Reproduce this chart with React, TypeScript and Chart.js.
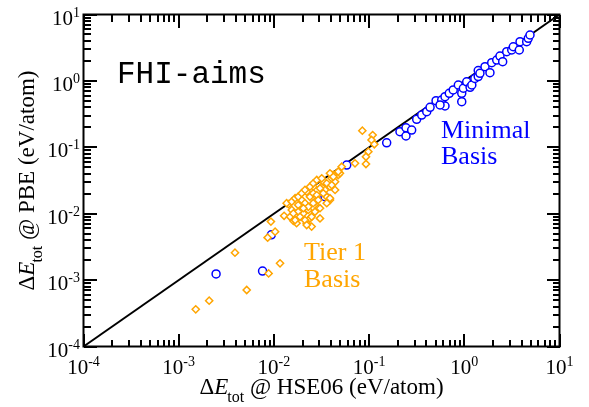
import React, { useEffect, useRef } from "react";
import { Chart, registerables } from "chart.js";

Chart.register(...registerables);

// ---- data (eV/atom) ----
const tier1X = [
  1.51e-3, 2.09e-3, 5.18e-3, 3.9e-3, 8.8e-3, 0.0116, 9.3e-3, 0.0103, 8.6e-3,
  0.0142, 0.0128, 0.0148, 0.016, 0.0173, 0.0154, 0.018, 0.0196, 0.0212, 0.0221,
  0.0239, 0.0259, 0.0259, 0.023, 0.0204, 0.0221, 0.0249, 0.0239, 0.0292, 0.0305,
  0.027, 0.0282, 0.0318, 0.033, 0.0344, 0.0359, 0.0388, 0.0388, 0.0405, 0.0439,
  0.0439, 0.0405, 0.0474, 0.0515, 0.0494, 0.0711, 0.0927, 0.0849, 0.109, 0.106,
  0.1135, 0.0982, 0.0927, 0.0474, 0.0421,
  0.0136, 0.0154, 0.0167, 0.018, 0.0196, 0.0212, 0.0239, 0.0259, 0.0282, 0.0318,
  0.0388, 0.0421, 0.0359, 0.0405, 0.0305, 0.033, 0.0292, 0.0259, 0.023, 0.0204,
  0.018, 0.016, 0.0167, 0.0188, 0.0212, 0.0221, 0.0249, 0.027, 0.0305, 0.0359,
  0.0388,
];
const tier1Y = [
  3.63e-4, 4.9e-4, 7.1e-4, 2.59e-3, 1.26e-3, 1.79e-3, 7.6e-3, 5.36e-3, 4.36e-3,
  0.0139, 0.0093, 0.009, 0.0078, 0.0072, 0.0114, 0.0135, 0.0161, 0.0144, 0.0214,
  0.018, 0.0255, 0.0203, 0.0114, 0.0101, 0.0072, 0.0064, 0.0085, 0.0121, 0.0085,
  0.0152, 0.0191, 0.0255, 0.0303, 0.0228, 0.018, 0.0161, 0.0255, 0.0341, 0.0303,
  0.0228, 0.0383, 0.0383, 0.051, 0.0406, 0.0574, 0.056, 0.178, 0.153, 0.129,
  0.111, 0.0859, 0.0721, 0.043, 0.0383,
  0.0144, 0.0152, 0.0171, 0.018, 0.0203, 0.0228, 0.0255, 0.0287, 0.0322, 0.0341,
  0.0406, 0.036, 0.0287, 0.027, 0.0242, 0.0203, 0.0161, 0.0144, 0.0127, 0.0121,
  0.0107, 0.0101, 0.008, 0.009, 0.008, 0.00676, 0.009, 0.0107, 0.0121, 0.0144,
  0.0171,
];
const minimalX = [
  2.47e-3, 7.6e-3, 9.4e-3, 0.0344, 0.0582, 0.153, 0.211, 0.244, 0.244, 0.28,
  0.316, 0.357, 0.403, 0.437, 0.505, 0.579, 0.627, 0.627, 0.695, 0.765, 0.865,
  0.94, 0.977, 1.06, 1.15, 1.2, 1.29, 1.4, 1.4, 1.46, 1.65, 1.86, 1.94, 2.19,
  2.37, 2.53, 2.79, 3.15, 3.27, 3.78, 3.85, 4.52, 4.7, 4.9, 0.94, 0.556,
];
const minimalY = [
  1.24e-3, 1.37e-3, 4.8e-3, 0.018, 0.054, 0.117, 0.172, 0.197, 0.148, 0.182,
  0.264, 0.306, 0.344, 0.4, 0.504, 0.515, 0.419, 0.578, 0.65, 0.73, 0.867,
  0.65, 0.775, 0.97, 0.8, 0.867, 1.09, 1.16, 1.43, 1.3, 1.64, 1.33, 1.88, 2.06,
  2.37, 1.95, 2.75, 2.92, 3.27, 2.92, 3.89, 3.89, 4.38, 4.91, 0.486, 0.434,
];
const diagonalX = [1e-4, 10];
const diagonalY = [1e-4, 10];

const axisMin = 1e-4;
const axisMax = 10;
const decadeExponents = [-4, -3, -2, -1, 0, 1];
const minorMultipliers = [2, 3, 4, 5, 6, 7, 8, 9];

const xTitleRest = " @ HSE06 (eV/atom)";
const yTitleRest = " @ PBE (eV/atom)";
const codeLabel = "FHI-aims";
const minimalLabel = ["Minimal", "Basis"];
const tier1Label = ["Tier 1", "Basis"];

const ORANGE = "#ffa500";
const BLUE = "#0000ff";
const SERIF = '"Liberation Serif", "Times New Roman", serif';

function toPoints(xs: number[], ys: number[]) {
  return xs.map((x, i) => ({ x, y: ys[i] }));
}

function drawEnergyTitle(ctx: CanvasRenderingContext2D, rest: string) {
  const main = `23px ${SERIF}`;
  const ital = `italic 23px ${SERIF}`;
  const sub = `16px ${SERIF}`;
  ctx.font = main;
  const wD = ctx.measureText("Δ").width;
  ctx.font = ital;
  const wE = ctx.measureText("E").width;
  ctx.font = sub;
  const wS = ctx.measureText("tot").width;
  ctx.font = main;
  const wR = ctx.measureText(rest).width;
  const gap = -1;
  const total = wD + wE + gap + wS + wR;
  let x = -total / 2;
  ctx.textAlign = "left";
  ctx.textBaseline = "alphabetic";
  ctx.font = main;
  ctx.fillText("Δ", x, 0);
  x += wD;
  ctx.font = ital;
  ctx.fillText("E", x, 0);
  x += wE + gap;
  ctx.font = sub;
  ctx.fillText("tot", x, 8);
  x += wS;
  ctx.font = main;
  ctx.fillText(rest, x, 0);
}

function powerLabel(
  ctx: CanvasRenderingContext2D,
  exp: number,
  anchorX: number,
  baseY: number,
  mode: "right" | "center"
) {
  const baseFont = `21px ${SERIF}`;
  const supFont = `14px ${SERIF}`;
  const expText = String(exp);
  ctx.font = baseFont;
  const w10 = ctx.measureText("10").width;
  ctx.font = supFont;
  const wE = ctx.measureText(expText).width;
  const total = w10 + wE;
  const x0 = mode === "right" ? anchorX - total : anchorX - total / 2;
  ctx.textAlign = "left";
  ctx.textBaseline = "alphabetic";
  ctx.font = baseFont;
  ctx.fillText("10", x0, baseY);
  ctx.font = supFont;
  ctx.fillText(expText, x0 + w10, baseY - 8);
}

function strokeTicks(chart: any) {
  const ctx: CanvasRenderingContext2D = chart.ctx;
  const a = chart.chartArea;
  const xs = chart.scales.x;
  const ys = chart.scales.y;
  const L = Math.round(a.left);
  const R = Math.round(a.right);
  const T = Math.round(a.top);
  const B = Math.round(a.bottom);
  ctx.save();
  ctx.setTransform(1, 0, 0, 1, 0, 0);
  ctx.globalAlpha = 1;
  ctx.globalCompositeOperation = "source-over";
  ctx.shadowColor = "rgba(0,0,0,0)";
  ctx.setLineDash([]);
  ctx.strokeStyle = "#000000";
  ctx.lineWidth = 2;
  ctx.lineCap = "butt";
  ctx.beginPath();
  for (const e of decadeExponents) {
    const base = Math.pow(10, e);
    const group = e < 1 ? [1, ...minorMultipliers] : [1];
    for (const m of group) {
      const len = m === 1 ? 13 : 7;
      const xp = Math.round(xs.getPixelForValue(m * base));
      const yp = Math.round(ys.getPixelForValue(m * base));
      ctx.moveTo(xp, B);
      ctx.lineTo(xp, B - len);
      ctx.moveTo(xp, T);
      ctx.lineTo(xp, T + len);
      ctx.moveTo(L, yp);
      ctx.lineTo(L + len, yp);
      ctx.moveTo(R, yp);
      ctx.lineTo(R - len, yp);
    }
  }
  ctx.stroke();
  ctx.restore();
}

const ticksPlugin = {
  id: "inwardTicks",
  afterDatasetsDraw(chart: any) {
    strokeTicks(chart);
  },
};

const framePlugin = {
  id: "xmgraceFrame",
  afterDraw(chart: any) {
    const ctx: CanvasRenderingContext2D = chart.ctx;
    const a = chart.chartArea;
    const xs = chart.scales.x;
    const ys = chart.scales.y;
    strokeTicks(chart);
    ctx.save();
    ctx.fillStyle = "#000000";
    ctx.strokeStyle = "#000000";
    ctx.lineWidth = 2;
    ctx.strokeRect(a.left, a.top, a.right - a.left, a.bottom - a.top);

    for (const e of decadeExponents) {
      const v = Math.pow(10, e);
      powerLabel(ctx, e, a.left - 3.5, ys.getPixelForValue(v) + 10, "right");
      powerLabel(ctx, e, xs.getPixelForValue(v), a.bottom + 27.5, "center");
    }

    ctx.save();
    ctx.translate((a.left + a.right) / 2, 394);
    drawEnergyTitle(ctx, xTitleRest);
    ctx.restore();

    ctx.save();
    ctx.translate(34, (a.top + a.bottom) / 2);
    ctx.rotate(-Math.PI / 2);
    drawEnergyTitle(ctx, yTitleRest);
    ctx.restore();

    ctx.textAlign = "left";
    ctx.textBaseline = "alphabetic";
    ctx.fillStyle = "#000";
    ctx.font = '31px "Liberation Mono", "Courier New", monospace';
    ctx.fillText(codeLabel, 117, 83);

    ctx.fillStyle = BLUE;
    ctx.font = `26px ${SERIF}`;
    ctx.fillText(minimalLabel[0], 441, 138);
    ctx.fillText(minimalLabel[1], 441, 164);

    ctx.fillStyle = ORANGE;
    ctx.fillText(tier1Label[0], 304, 260);
    ctx.fillText(tier1Label[1], 304, 287);

    ctx.restore();
  },
};

export default function App() {
  const ref = useRef<HTMLCanvasElement | null>(null);

  useEffect(() => {
    if (!ref.current) return;
    const chart = new Chart(ref.current, {
      type: "scatter",
      data: {
        datasets: [
          {
            label: "Tier 1 Basis",
            data: toPoints(tier1X, tier1Y),
            pointStyle: "rectRot",
            pointRadius: 3.6,
            pointBorderWidth: 1.5,
            borderColor: ORANGE,
            backgroundColor: "#ffffff",
            pointBackgroundColor: "#ffffff",
            pointBorderColor: ORANGE,
            showLine: false,
          },
          {
            label: "Minimal Basis",
            data: toPoints(minimalX, minimalY),
            pointStyle: "circle",
            pointRadius: 4,
            pointBorderWidth: 1.5,
            borderColor: BLUE,
            backgroundColor: "#ffffff",
            pointBackgroundColor: "#ffffff",
            pointBorderColor: BLUE,
            showLine: false,
          },
          {
            label: "y = x",
            data: toPoints(diagonalX, diagonalY),
            showLine: true,
            borderColor: "#000",
            borderWidth: 2,
            pointRadius: 0,
            fill: false,
          },
        ],
      },
      options: {
        animation: false,
        responsive: false,
        events: [],
        layout: {
          padding: { left: 83.5, right: 29.5, top: 14.5, bottom: 60.5 },
        },
        plugins: {
          legend: { display: false },
          tooltip: { enabled: false },
        },
        scales: {
          x: { type: "logarithmic", min: axisMin, max: axisMax, display: false },
          y: { type: "logarithmic", min: axisMin, max: axisMax, display: false },
        },
      },
      plugins: [ticksPlugin, framePlugin],
    } as any);
    return () => chart.destroy();
  }, []);

  return (
    <div style={{ position: "absolute", left: 0, top: 0, width: 589, height: 407, background: "#fff" }}>
      <canvas ref={ref} width={589} height={407} style={{ width: 589, height: 407 }} />
    </div>
  );
}
